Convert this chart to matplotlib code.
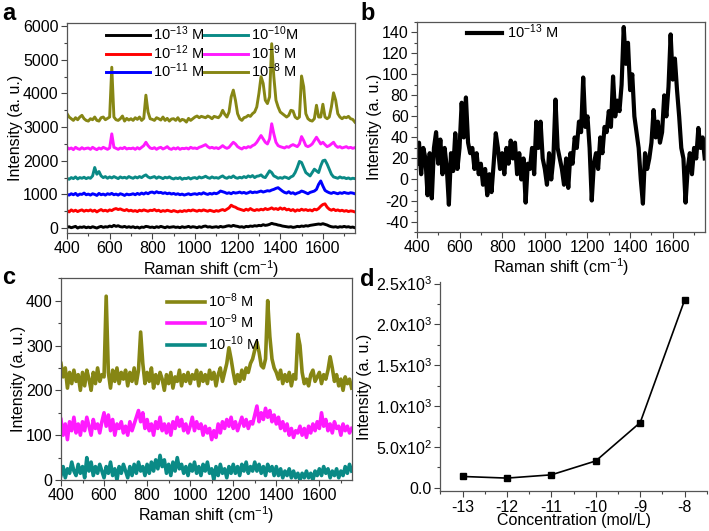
import numpy as np
import matplotlib
matplotlib.use('Agg')
import matplotlib.pyplot as plt
from matplotlib.ticker import MultipleLocator, FuncFormatter

plt.rcParams['font.family'] = ['Liberation Sans', 'DejaVu Sans']
plt.rcParams['mathtext.fontset'] = 'custom'
plt.rcParams['mathtext.rm'] = 'Liberation Sans'
plt.rcParams['mathtext.it'] = 'Liberation Sans'
plt.rcParams['axes.unicode_minus'] = False

# Raman shift axis (cm-1), one reading every 10 cm-1
shift = np.arange(400, 1751, 10)

# panel a: stacked spectra (offsets included)
a_8 = [3400, 3300, 3250, 3200, 3280, 3220, 3300, 3350, 3250, 3200,
       3180, 3250, 3220, 3300, 3200, 3180, 3280, 3300, 3220, 3260,
       3300, 4780, 3300, 3220, 3200, 3250, 3330, 3180, 3260, 3210,
       3250, 3200, 3280, 3230, 3300, 3200, 3260, 3950, 3450, 3250,
       3230, 3200, 3280, 3250, 3210, 3300, 3200, 3260, 3180, 3240,
       3250, 3200, 3280, 3180, 3230, 3210, 3150, 3260, 3200, 3250,
       3300, 3330, 3280, 3320, 3300, 3280, 3330, 3300, 3250, 3320,
       3300, 3280, 3350, 3500, 3380, 3300, 3450, 3900, 4100, 3800,
       3400, 3250, 3200, 3280, 3300, 3350, 3320, 3400, 3450, 3600,
       4000, 4500, 4300, 3800, 3700, 3900, 5480, 4500, 3800, 3600,
       3450, 3400, 3350, 3300, 3350, 3500, 3480, 3300, 3250, 3300,
       4520, 4200, 3400, 3250, 3200, 3180, 3250, 3650, 3300, 3300,
       3680, 3300, 3250, 3300, 3600, 4020, 3800, 3400, 3300, 3250,
       3300, 3280, 3320, 3250, 3230, 3150]
a_9 = [2400, 2350, 2380, 2330, 2400, 2360, 2340, 2390, 2350, 2370,
       2380, 2340, 2400, 2360, 2330, 2380, 2350, 2400, 2370, 2340,
       2380, 2800, 2400, 2370, 2340, 2380, 2360, 2400, 2350, 2370,
       2360, 2380, 2340, 2390, 2350, 2400, 2450, 2550, 2450, 2380,
       2360, 2390, 2340, 2380, 2400, 2350, 2380, 2420, 2360, 2340,
       2380, 2350, 2390, 2340, 2370, 2360, 2380, 2350, 2400, 2370,
       2380, 2360, 2400, 2420, 2450, 2480, 2420, 2380, 2400, 2370,
       2390, 2360, 2400, 2450, 2400, 2370, 2400, 2480, 2550, 2500,
       2420, 2380, 2350, 2400, 2380, 2420, 2400, 2450, 2480, 2550,
       2650, 2750, 2650, 2550, 2500, 2650, 3100, 2800, 2550, 2450,
       2420, 2400, 2380, 2420, 2400, 2450, 2480, 2450, 2420, 2500,
       2720, 2600, 2450, 2420, 2450, 2500, 2600, 2700, 2600, 2500,
       2550, 2480, 2420, 2450, 2500, 2550, 2450, 2400, 2420, 2380,
       2400, 2420, 2380, 2400, 2370, 2390]
a_10 = [1480, 1450, 1500, 1470, 1520, 1460, 1500, 1480, 1510, 1470,
        1500, 1480, 1550, 1800, 1600, 1680, 1550, 1500, 1530, 1480,
        1520, 1490, 1530, 1500, 1470, 1520, 1490, 1510, 1480, 1530,
        1500, 1480, 1520, 1490, 1530, 1500, 1550, 1580, 1520, 1490,
        1510, 1530, 1480, 1520, 1500, 1470, 1510, 1490, 1520, 1480,
        1460, 1490, 1470, 1500, 1450, 1480, 1470, 1500, 1460, 1490,
        1500, 1470, 1520, 1490, 1510, 1540, 1500, 1480, 1520, 1490,
        1500, 1480, 1520, 1550, 1500, 1480, 1520, 1500, 1550, 1500,
        1480, 1510, 1490, 1530, 1500, 1550, 1520, 1560, 1500, 1540,
        1550, 1580, 1520, 1500, 1600, 1700, 1650, 1550, 1520, 1480,
        1500, 1480, 1520, 1500, 1470, 1520, 1550, 1650, 1800, 1980,
        1950, 1800, 1650, 1600, 1550, 1650, 1750, 1700, 1650, 1850,
        2000, 2020, 1900, 1750, 1600, 1520, 1500, 1480, 1520, 1490,
        1500, 1470, 1490, 1460, 1480, 1470]
a_11 = [1000, 980, 1020, 990, 1030, 970, 1010, 1000, 1040, 990,
        1010, 980, 1020, 1000, 970, 1030, 990, 1010, 980, 1020,
        1000, 1030, 990, 1010, 980, 1020, 1000, 970, 1010, 990,
        1000, 1020, 990, 1030, 1000, 1040, 1010, 1050, 1020, 1060,
        1070, 1040, 1080, 1050, 1060, 1030, 1050, 1020, 1040, 1010,
        1030, 1000, 1020, 990, 1010, 980, 1000, 1020, 990, 1010,
        1020, 1000, 1030, 1010, 1050, 1020, 1000, 1030, 1010, 1040,
        1020, 1050, 1100, 1080, 1060, 1030, 1050, 1020, 1060, 1040,
        1050, 1070, 1040, 1060, 1030, 1050, 1080, 1050, 1070, 1060,
        1080, 1100, 1070, 1090, 1110, 1100, 1130, 1150, 1180, 1200,
        1150, 1100, 1060, 1040, 1080, 1030, 1050, 1010, 1040, 1060,
        1100, 1080, 1050, 1020, 1060, 1080, 1100, 1150, 1300, 1400,
        1250, 1120, 1080, 1050, 1030, 1060, 1040, 1020, 1050, 1030,
        1060, 1040, 1030, 1050, 1040, 1020]
a_12 = [520, 480, 540, 500, 530, 490, 520, 540, 500, 530,
        510, 540, 500, 530, 480, 520, 550, 510, 530, 500,
        540, 520, 560, 580, 550, 570, 540, 520, 550, 510,
        530, 500, 520, 490, 530, 510, 540, 520, 500, 530,
        520, 550, 510, 530, 490, 520, 500, 530, 510, 490,
        520, 500, 480, 510, 490, 520, 500, 530, 510, 540,
        520, 500, 530, 510, 540, 520, 500, 530, 510, 490,
        520, 500, 530, 550, 520, 560, 600, 680, 640, 620,
        580, 560, 540, 520, 560, 530, 580, 540, 520, 550,
        530, 560, 540, 580, 550, 570, 600, 560, 580, 550,
        600, 560, 590, 540, 560, 520, 550, 500, 540, 520,
        560, 530, 550, 520, 540, 510, 560, 540, 580, 650,
        700, 720, 620, 560, 530, 560, 520, 540, 510, 530,
        500, 520, 490, 510, 500, 480]
a_13 = [20, 40, 10, 30, 50, 0, 30, 20, 40, 10,
        30, 10, 40, 20, 0, 30, 50, 20, 40, 30,
        60, 40, 80, 50, 70, 40, 30, 50, 20, 40,
        20, 40, 10, 30, 0, 30, 20, 50, 40, 20,
        30, 10, 40, 20, 50, 30, 10, 40, 20, 30,
        40, 20, 30, 10, 40, 20, 30, 50, 20, 40,
        30, 10, 40, 20, 50, 60, 30, 40, 20, 30,
        40, 20, 50, 30, 40, 60, 70, 50, 80, 60,
        50, 30, 40, 20, 50, 40, 60, 50, 70, 60,
        80, 70, 100, 80, 90, 110, 140, 120, 110, 90,
        80, 60, 50, 40, 30, 40, 20, 30, 50, 40,
        60, 50, 70, 60, 80, 90, 100, 110, 120, 110,
        130, 110, 90, 60, 40, 30, 40, 20, 40, 30,
        50, 30, 40, 20, 30, 10]

# panel b: 1e-13 M spectrum
b_13 = [15, 35, 5, 30, 20, -15, 25, -18, 30, 45,
        15, 38, 5, 30, 12, -24, 25, 8, 44, 10,
        30, 73, 40, 78, 35, 25, 30, 10, 25, 5,
        15, -5, 10, -15, 5, -12, 15, 44, 30, 10,
        25, 5, 30, 15, 37, 20, 35, 5, 25, 0,
        20, -22, 15, 10, 30, 5, 55, 30, 55, 20,
        10, -5, 25, 0, 20, 76, 30, 20, 10, -5,
        20, -8, 25, 15, 40, 30, 55, 45, 97, 50,
        60, 30, -20, 15, 25, 10, 40, 25, 50, 45,
        65, 50, 98, 60, 75, 65, 90, 145, 110, 130,
        85, 100, 60, 45, 30, 0, -23, 25, 10, 20,
        35, 66, 40, 55, 35, 45, 80, 60, 88, 138,
        95, 115, 85, 60, 30, 20, -22, 10, 25, 5,
        30, 20, 49, 30, 40, 20]

# panel c: 1e-8, 1e-9, 1e-10 M
c_8 = [260, 230, 250, 205, 240, 215, 245, 220, 235, 200,
       240, 210, 245, 225, 200, 240, 215, 250, 220, 235,
       230, 410, 240, 205, 245, 220, 250, 215, 240, 225,
       245, 210, 240, 220, 250, 215, 245, 330, 260, 215,
       240, 220, 250, 205, 235, 215, 240, 225, 200, 235,
       215, 240, 205, 230, 220, 245, 210, 235, 220, 240,
       215, 235, 225, 245, 210, 240, 220, 235, 215, 245,
       225, 240, 210, 235, 250, 220, 240, 260, 295, 270,
       240, 215, 235, 220, 245, 225, 250, 240, 260, 270,
       290, 308, 285, 255, 250, 270, 400, 320, 270, 250,
       240, 225, 245, 215, 235, 220, 240, 210, 235, 225,
       325, 300, 240, 215, 225, 210, 235, 245, 220, 230,
       240, 215, 235, 225, 245, 275, 250, 220, 235, 210,
       225, 200, 230, 215, 225, 205]
c_9 = [135, 100, 125, 90, 130, 110, 140, 105, 125, 100,
       130, 110, 140, 120, 100, 135, 115, 125, 105, 130,
       150, 120, 145, 110, 135, 100, 125, 115, 130, 105,
       120, 100, 130, 110, 125, 140, 155, 130, 150, 115,
       135, 110, 125, 100, 130, 115, 140, 110, 125, 105,
       125, 100, 130, 115, 140, 120, 135, 110, 125, 105,
       120, 140, 110, 130, 115, 125, 100, 120, 105, 115,
       90, 110, 95, 125, 105, 130, 115, 135, 120, 140,
       115, 130, 110, 125, 140, 120, 135, 115, 130, 125,
       145, 165, 130, 150, 135, 160, 140, 155, 130, 145,
       125, 140, 115, 130, 110, 125, 100, 115, 95, 110,
       105, 120, 100, 115, 95, 120, 105, 125, 110, 130,
       115, 150, 120, 135, 110, 125, 105, 130, 115, 120,
       100, 125, 110, 120, 105, 115]
c_10 = [10, 30, 5, 25, 15, 40, 20, 10, 35, 15,
        30, 5, 50, 20, 40, 10, 30, 15, 35, 20,
        5, 30, 15, 40, 10, 25, 0, 30, 15, 35,
        20, 5, 30, 10, 35, 15, 40, 20, 30, 10,
        35, 15, 40, 20, 45, 25, 55, 30, 45, 15,
        35, 10, 40, 20, 50, 25, 35, 15, 30, 10,
        35, 20, 40, 15, 30, 10, 35, 20, 40, 15,
        25, 0, 30, 10, 35, 15, 25, 5, 30, 15,
        35, 15, 30, 10, 35, 20, 40, 15, 30, 20,
        40, 20, 35, 15, 30, 10, 35, 20, 30, 10,
        30, 10, 25, 5, 20, 10, 25, 5, 20, 5,
        15, 0, 15, 5, 20, 5, 15, 0, 20, 10,
        25, 10, 30, 15, 25, 5, 20, 10, 25, 5,
        20, 10, 30, 15, 35, 20]

# panel d: intensity vs log concentration
conc = [-13, -12, -11, -10, -9, -8]
peak_int = [140, 120, 160, 330, 800, 2300]

OLIVE = '#868614'
TEAL = '#0a8a86'
MAGENTA = '#ff1aff'
LW = 2.1
FS = 11.5
LFS = 11.5


def style_axes(ax, xmaj, xmin, ymaj, ymin):
    ax.xaxis.set_major_locator(MultipleLocator(xmaj))
    ax.xaxis.set_minor_locator(MultipleLocator(xmin))
    ax.yaxis.set_major_locator(MultipleLocator(ymaj))
    ax.yaxis.set_minor_locator(MultipleLocator(ymin))
    ax.tick_params(which='both', direction='out', top=False, right=False,
                   labelsize=FS, color='#444444')
    ax.tick_params(which='major', length=4, width=0.8, pad=2)
    ax.tick_params(which='minor', length=2.5, width=0.8)
    for s in ax.spines.values():
        s.set_color('#555555')
        s.set_linewidth(0.9)


fig = plt.figure(figsize=(7.09, 5.31), dpi=100)
xlab = 'Raman shift (cm$^{-1}$)'
ylab = 'Intensity (a. u.)'

# ---- a
ax = fig.add_axes([0.0945, 0.561, 0.406, 0.396])
ax.plot(shift, a_13, color='black', lw=LW, label='10$^{-13}$ M')
ax.plot(shift, a_12, color='#ff0000', lw=LW, label='10$^{-12}$ M')
ax.plot(shift, a_11, color='#0000ff', lw=LW, label='10$^{-11}$ M')
ax.plot(shift, a_10, color=TEAL, lw=LW, label='10$^{-10}$M')
ax.plot(shift, a_9, color=MAGENTA, lw=LW, label='10$^{-9}$ M')
ax.plot(shift, a_8, color=OLIVE, lw=LW, label='10$^{-8}$ M')
ax.set_xlim(400, 1750)
ax.set_ylim(-150, 6100)
style_axes(ax, 200, 100, 1000, 500)
ax.set_xlabel(xlab, fontsize=LFS, labelpad=1)
ax.set_ylabel(ylab, fontsize=LFS, labelpad=0)
ax.legend(ncol=2, frameon=False, fontsize=10.5, loc='upper left',
          bbox_to_anchor=(0.1, 1.04), handlelength=3.0, handletextpad=0.2,
          columnspacing=0.0, labelspacing=0.0, borderpad=0.2)

# ---- b
ax = fig.add_axes([0.588, 0.563, 0.406, 0.396])
ax.plot(shift, b_13, color='black', lw=3.0, label='10$^{-13}$ M')
ax.set_xlim(400, 1750)
ax.set_ylim(-50, 150)
style_axes(ax, 200, 100, 20, 10)
ax.set_xlabel(xlab, fontsize=LFS, labelpad=1)
ax.set_ylabel(ylab, fontsize=LFS, labelpad=0)
ax.legend(frameon=False, fontsize=10.5, loc='upper left',
          bbox_to_anchor=(0.13, 1.06), handlelength=2.4, handletextpad=0.3)

# ---- c
ax = fig.add_axes([0.086, 0.096, 0.41, 0.38])
ax.plot(shift, c_8, color=OLIVE, lw=2.6, label='10$^{-8}$ M')
ax.plot(shift, c_9, color=MAGENTA, lw=2.6, label='10$^{-9}$ M')
ax.plot(shift, c_10, color=TEAL, lw=2.6, label='10$^{-10}$ M')
ax.set_xlim(400, 1750)
ax.set_ylim(0, 450)
style_axes(ax, 200, 100, 100, 50)
ax.set_xlabel(xlab, fontsize=LFS, labelpad=1)
ax.set_ylabel(ylab, fontsize=LFS, labelpad=0)
ax.legend(frameon=False, fontsize=10.5, loc='upper left',
          bbox_to_anchor=(0.32, 1.0), handlelength=2.6, handletextpad=0.2,
          labelspacing=0.2)

# ---- d
ax = fig.add_axes([0.621, 0.075, 0.376, 0.394])
ax.plot(conc, peak_int, color='black', lw=1.2, marker='s', ms=4.5)
ax.set_xlim(-13.5, -7.5)
ax.set_ylim(-40, 2520)
style_axes(ax, 1, 0.5, 500, 250)
ax.spines['top'].set_visible(False)
ax.spines['right'].set_visible(False)


def sci(v, pos):
    if abs(v) < 1e-9:
        return '0.0'
    e = int(np.floor(np.log10(abs(v))))
    return r'%.1fx10$^{%d}$' % (v / 10 ** e, e)


ax.yaxis.set_major_formatter(FuncFormatter(sci))
ax.set_xlabel('Concentration (mol/L)', fontsize=LFS, labelpad=-1)
ax.set_ylabel(ylab, fontsize=LFS)
ax.yaxis.set_label_coords(-0.255, 0.5)

# panel letters
for txt, x, y in [('a', 0.003, 0.975), ('b', 0.508, 0.975),
                  ('c', 0.003, 0.478), ('d', 0.508, 0.474)]:
    fig.text(x, y, txt, fontsize=17, fontweight='bold', va='center')

fig.savefig('out.png', dpi=100)
